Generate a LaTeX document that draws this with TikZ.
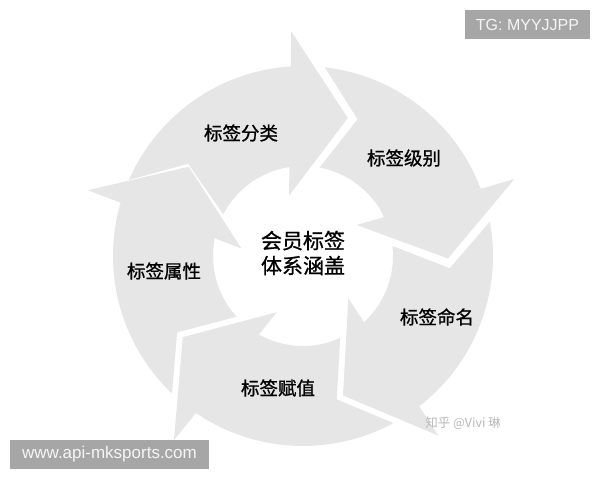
\documentclass[tikz,border=0pt]{standalone}
\usepackage{fontspec}
\setmainfont{Liberation Sans}
\newfontfamily\cjk{Noto Sans CJK SC}
\newfontfamily\cjkheavy[FakeBold=1]{Noto Sans CJK SC}
\definecolor{ringgray}{RGB}{230,230,230}
\definecolor{tagbg}{RGB}{166,166,166}
\tikzset{
  ringpart/.pic = {
    \fill[ringgray] (63.4:190) arc[start angle=63.4, end angle=0.7, radius=190pt]
      -- (0:225) -- (-21:145) -- (10:62) -- (5.7:90)
      arc[start angle=5.7, end angle=59.4, radius=90pt] -- (48.25:147.2) -- cycle;
  },
  steplabel/.style = {inner sep=0pt, text=black, font=\cjkheavy\fontsize{18.5}{22}\selectfont},
  hubtext/.style = {steplabel, align=center, font=\cjkheavy\fontsize{21}{25}\selectfont},
  markbox/.style = {inner sep=0pt, fill=tagbg, text=white!96!black, font=\fontsize{16}{19}\selectfont}
}
\begin{document}
\begin{tikzpicture}[x=1pt, y=1pt]
  \useasboundingbox (-303,-224) rectangle (297,256);
  % five arrows round the hub
  \begin{scope}[yscale=0.963]
    \pic[rotate=93] {ringpart};
    \pic[rotate=20] {ringpart};
    \pic[rotate=-53] {ringpart};
    \pic[rotate=-125] {ringpart};
    \pic[rotate=163] {ringpart};
  \end{scope}
  \node [hubtext] (hub) at (0,3) {会员标签\\体系涵盖};
  \node [steplabel] (classify) at (-62,123) {标签分类};
  \node [steplabel] (level) at (101,98) {标签级别};
  \node [steplabel] (naming) at (134,-61) {标签命名};
  \node [steplabel] (assign) at (-25,-132) {标签赋值};
  \node [steplabel] (attr) at (-139,-15) {标签属性};
  % watermarks
  \node [text=black!28, font=\cjk\fontsize{12.5}{15}\selectfont] (zhihu) at (160,-167) {知乎 @Vivi 琳};
  \node [markbox, minimum width=125pt, minimum height=29pt] (tgmark) at (224.5,231.5) {TG: MYYJJPP};
  \node [markbox, minimum width=199pt, minimum height=29pt, font=\fontsize{17}{20}\selectfont] (webmark) at (-193.5,-198.5) {www.api-mksports.com};
\end{tikzpicture}
\end{document}
